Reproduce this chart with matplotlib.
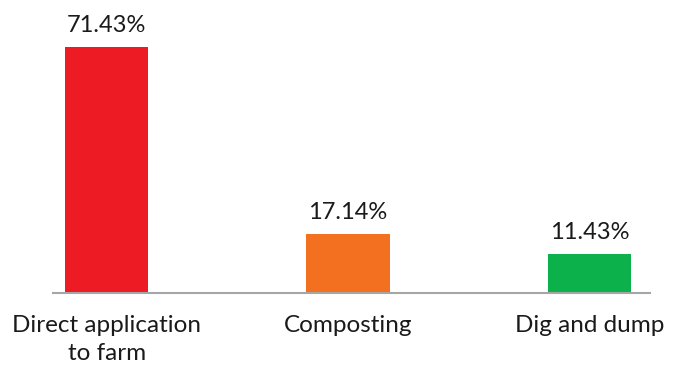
import matplotlib
matplotlib.use("Agg")
import matplotlib.pyplot as plt

categories = ["Direct application\nto farm", "Composting", "Dig and dump"]
values = [71.43, 17.14, 11.43]
colors = ["#ED1C24", "#F37021", "#0DB14B"]
value_labels = ["71.43%", "17.14%", "11.43%"]

plt.rcParams['font.family'] = ['Lato', 'DejaVu Sans']

fig = plt.figure(figsize=(6.74, 3.65), dpi=100)
ax = fig.add_axes([0.0786, 0.1973, 0.8858, 0.8027])

x = list(range(len(categories)))
ax.bar(x, values, width=0.344, color=colors)

for xi, v, lab in zip(x, values, value_labels):
    ax.annotate(lab, (xi, v), xytext=(0, 8), textcoords="offset points",
                ha="center", va="bottom", fontsize=17, color="#1a1a1a")

ax.set_xlim(-0.222, 2.251)
ax.set_ylim(0, 85.07)
ax.set_yticks([])
ax.set_xticks(x)
ax.set_xticklabels(categories, fontsize=17.5, color="#1a1a1a", linespacing=1.4)
ax.tick_params(axis="x", length=0, pad=16)
for s in ["top", "right", "left"]:
    ax.spines[s].set_visible(False)
ax.spines["bottom"].set_color("#A6A6A6")
ax.spines["bottom"].set_linewidth(1.5)

fig.savefig("out.png", dpi=100)
